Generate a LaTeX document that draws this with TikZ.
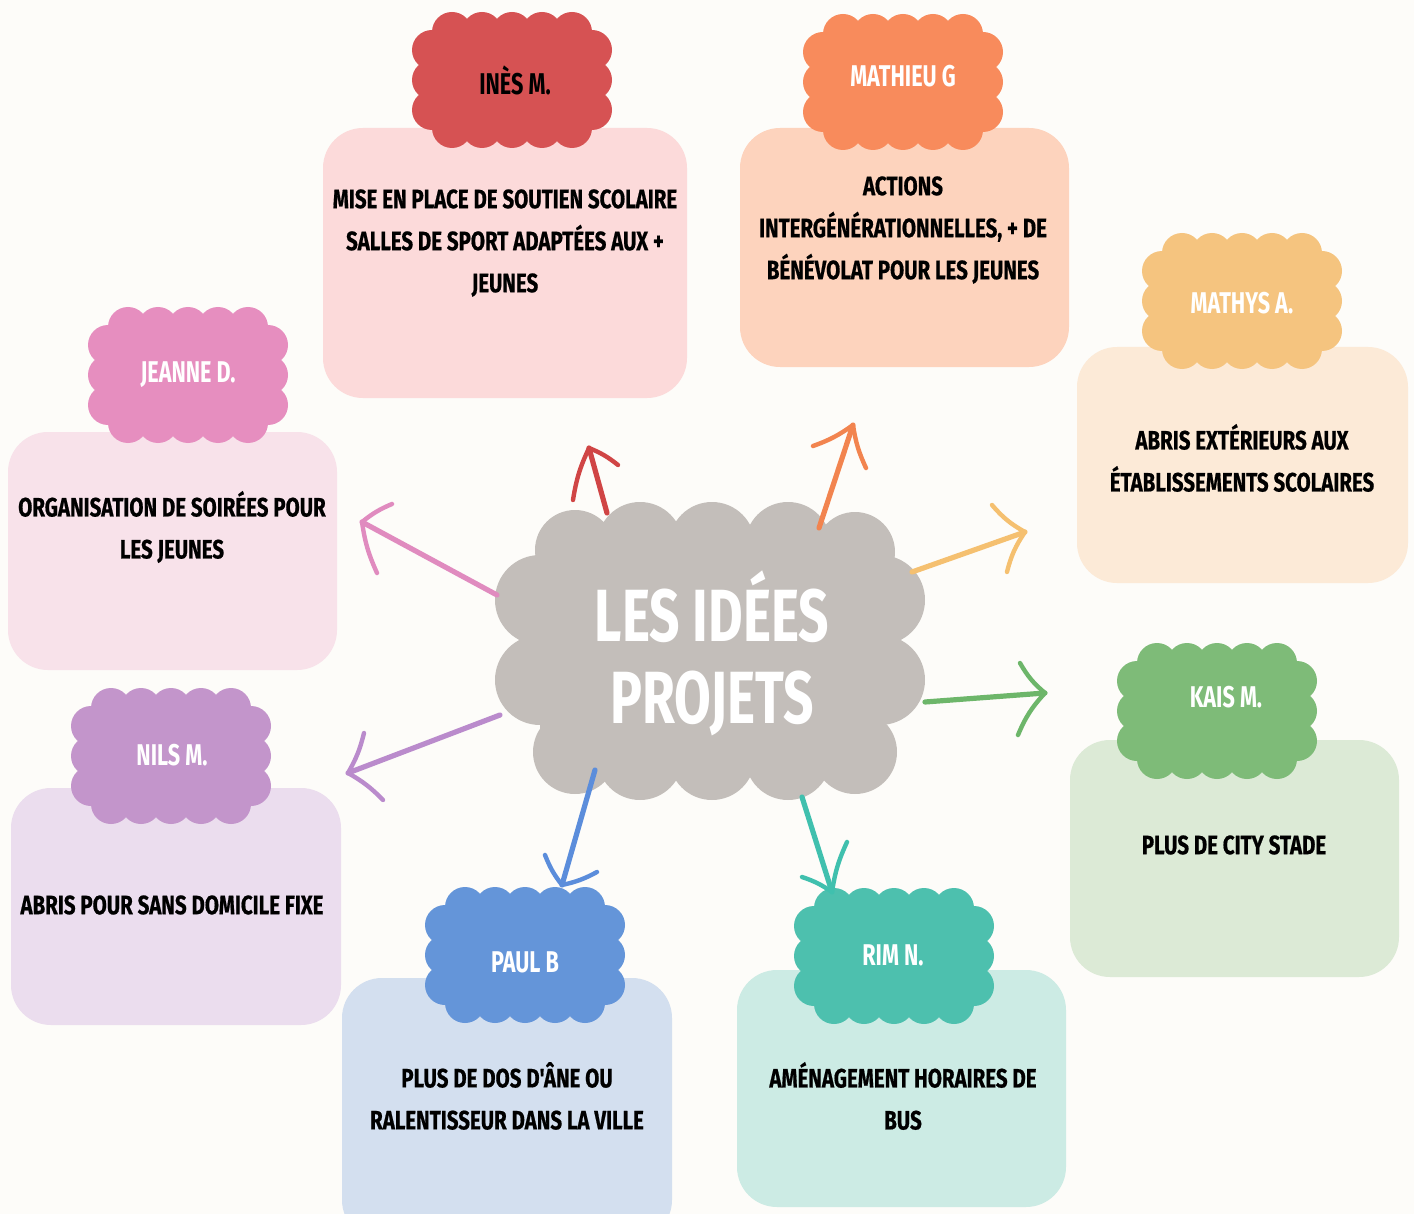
\documentclass[tikz,border=0pt]{standalone}
\usepackage{fontspec}
\newfontfamily\cond[FakeStretch=0.72]{Fira Sans}
\newfontfamily\condw[FakeStretch=0.77,FakeBold=0.6]{Fira Sans}
\definecolor{bg}{HTML}{FDFCF9}
\definecolor{cred}{HTML}{D65253}\definecolor{bred}{HTML}{FCDADA}\definecolor{ared}{HTML}{D04545}
\definecolor{cora}{HTML}{F88B5C}\definecolor{bora}{HTML}{FDD3BD}\definecolor{aora}{HTML}{F2844F}
\definecolor{cyel}{HTML}{F5C47F}\definecolor{byel}{HTML}{FCEAD7}\definecolor{ayel}{HTML}{F5C070}
\definecolor{cgre}{HTML}{7EBB78}\definecolor{bgre}{HTML}{DCEAD6}\definecolor{agre}{HTML}{6DB66A}
\definecolor{ctea}{HTML}{4DC0AE}\definecolor{btea}{HTML}{CCEBE4}\definecolor{atea}{HTML}{40C0AE}
\definecolor{cblu}{HTML}{6495D9}\definecolor{bblu}{HTML}{D3DFEF}\definecolor{ablu}{HTML}{5B8DDB}
\definecolor{cpur}{HTML}{C395CB}\definecolor{bpur}{HTML}{EBDDEE}\definecolor{apur}{HTML}{BA8BCC}
\definecolor{cpin}{HTML}{E68EBF}\definecolor{bpin}{HTML}{F8E2EA}\definecolor{apin}{HTML}{E08BBF}
\definecolor{cgray}{HTML}{C3BEBA}
\newcommand\scallop[3]{%
  \fill[#3] (#1-80,#2-48) rectangle (#1+80,#2+48);
  \foreach \dx in {-60,-30,0,30,60}{%
    \fill[#3] (#1+\dx,#2-48) circle (10pt);
    \fill[#3] (#1+\dx,#2+48) circle (10pt);}
  \foreach \dy in {-30,0,30}{%
    \fill[#3] (#1-80,#2+\dy) circle (10pt);
    \fill[#3] (#1+80,#2+\dy) circle (10pt);}
}
\begin{document}
\begin{tikzpicture}[x=0.5pt,y=-0.5pt,
  ideabox/.style={rounded corners=20pt},
  boxtxt/.style={font=\condw\bfseries\fontsize{13.3pt}{21pt}\selectfont, align=center, text=black, inner sep=0pt},
  lbl/.style={font=\cond\bfseries\fontsize{15pt}{18pt}\selectfont, text=white, inner sep=0pt},
  shaft/.style={line width=2.6pt, line cap=round, line join=round},
  head/.style={line width=2.2pt, line cap=round, line join=round}]
\fill[bg] (0,0) rectangle (1414,1214);
\useasboundingbox (0,0) rectangle (1414,1214);
% boxes
\fill[bred,ideabox] (323,128) rectangle (687,398);
\fill[bora,ideabox] (740,128) rectangle (1069,367);
\fill[byel,ideabox] (1077,347) rectangle (1408,583);
\fill[bgre,ideabox] (1070,740) rectangle (1399,977);
\fill[btea,ideabox] (737,970) rectangle (1066,1207);
\fill[bblu,ideabox] (342,978) rectangle (672,1240);
\fill[bpur,ideabox] (11,788) rectangle (341,1025);
\fill[bpin,ideabox] (8,432) rectangle (337,670);
% box texts
\node[boxtxt] (tines) at (505,243) {MISE EN PLACE DE SOUTIEN SCOLAIRE\\SALLES DE SPORT ADAPTÉES AUX +\\JEUNES};
\node[boxtxt] (tmath) at (903,230) {ACTIONS\\INTERGÉNÉRATIONNELLES, + DE\\BÉNÉVOLAT POUR LES JEUNES};
\node[boxtxt] (tmathys) at (1242,458) {ABRIS EXTÉRIEURS AUX\\ÉTABLISSEMENTS SCOLAIRES};
\node[boxtxt] (tkais) at (1234,845) {PLUS DE CITY STADE};
\node[boxtxt] (trim) at (903,1096) {AMÉNAGEMENT HORAIRES DE\\BUS};
\node[boxtxt] (tpaul) at (507,1096) {PLUS DE DOS D'ÂNE OU\\RALENTISSEUR DANS LA VILLE};
\node[boxtxt] (tnils) at (172,905) {ABRIS POUR SANS DOMICILE FIXE};
\node[boxtxt] (tjean) at (172,527) {ORGANISATION DE SOIRÉES POUR\\LES JEUNES};
% label clouds
\scallop{512}{80}{cred}
\scallop{903}{82}{cora}
\scallop{1242}{301}{cyel}
\scallop{1217}{711}{cgre}
\scallop{894}{956}{ctea}
\scallop{525}{955}{cblu}
\scallop{171}{756}{cpur}
\scallop{188}{375}{cpin}
\node[lbl,text=black] (ines) at (515,80) {INÈS M.};
\node[lbl] (mathieu) at (903,76) {MATHIEU G};
\node[lbl] (mathys) at (1242,303) {MATHYS A.};
\node[lbl] (kais) at (1226,697) {KAIS M.};
\node[lbl] (rim) at (893,955) {RIM N.};
\node[lbl] (paul) at (525,962) {PAUL B};
\node[lbl] (nils) at (172,755) {NILS M.};
\node[lbl] (jeanne) at (188,375) {JEANNE D.};
% central cloud
\fill[cgray] (540,545) rectangle (880,757);
\foreach \x/\y/\r in {575/550/40,640/545/43,712/545/43,788/545/43,855/552/40,
                      575/752/42,640/757/43,712/757/43,788/757/43,855/752/42,
                      540/600/45,540/680/45,880/600/45,880/680/45}
  {\fill[cgray] (\x,\y) circle (\r*0.5pt);}
\node[font=\cond\bfseries\fontsize{37pt}{41pt}\selectfont, text=white, align=center, inner sep=0pt] (center) at (712,653) {LES IDÉES\\PROJETS};
% arrows
\coordinate (s1) at (607,513); \coordinate (t1) at (589,448);
\coordinate (s2) at (819,528); \coordinate (t2) at (853,425);
\coordinate (s3) at (912,572); \coordinate (t3) at (1025,532);
\coordinate (s4) at (925,702); \coordinate (t4) at (1045,693);
\coordinate (s5) at (802,797); \coordinate (t5) at (832,892);
\coordinate (s6) at (595,770); \coordinate (t6) at (562,885);
\coordinate (s7) at (497,595); \coordinate (t7) at (362,522);
\coordinate (s8) at (500,715); \coordinate (t8) at (348,773);
\draw[shaft,ared] (s1) -- (t1); \draw[head,ared] (573,500) to[bend left=8] (t1) to[bend left=8] (618,465);
\draw[shaft,aora] (s2) -- (t2); \draw[head,aora] (813,446) to[bend right=8] (t2) to[bend right=8] (866,468);
\draw[shaft,ayel] (s3) -- (t3); \draw[head,ayel] (992,505) to[bend right=10] (t3) to[bend right=10] (1007,572);
\draw[shaft,agre] (s4) -- (t4); \draw[head,agre] (1020,663) to[bend right=10] (t4) to[bend right=10] (1018,735);
\draw[shaft,atea] (s5) -- (t5); \draw[head,atea] (802,877) to[bend left=8] (t5) to[bend left=8] (847,842);
\draw[shaft,ablu] (s6) -- (t6); \draw[head,ablu] (545,855) to[bend right=8] (t6) to[bend right=8] (597,872);
\draw[shaft,apin] (s7) -- (t7); \draw[head,apin] (392,504) to[bend right=8] (t7) to[bend right=8] (377,573);
\draw[shaft,apur] (s8) -- (t8); \draw[head,apur] (364,733) to[bend left=8] (t8) to[bend left=8] (383,800);
\end{tikzpicture}
\end{document}
